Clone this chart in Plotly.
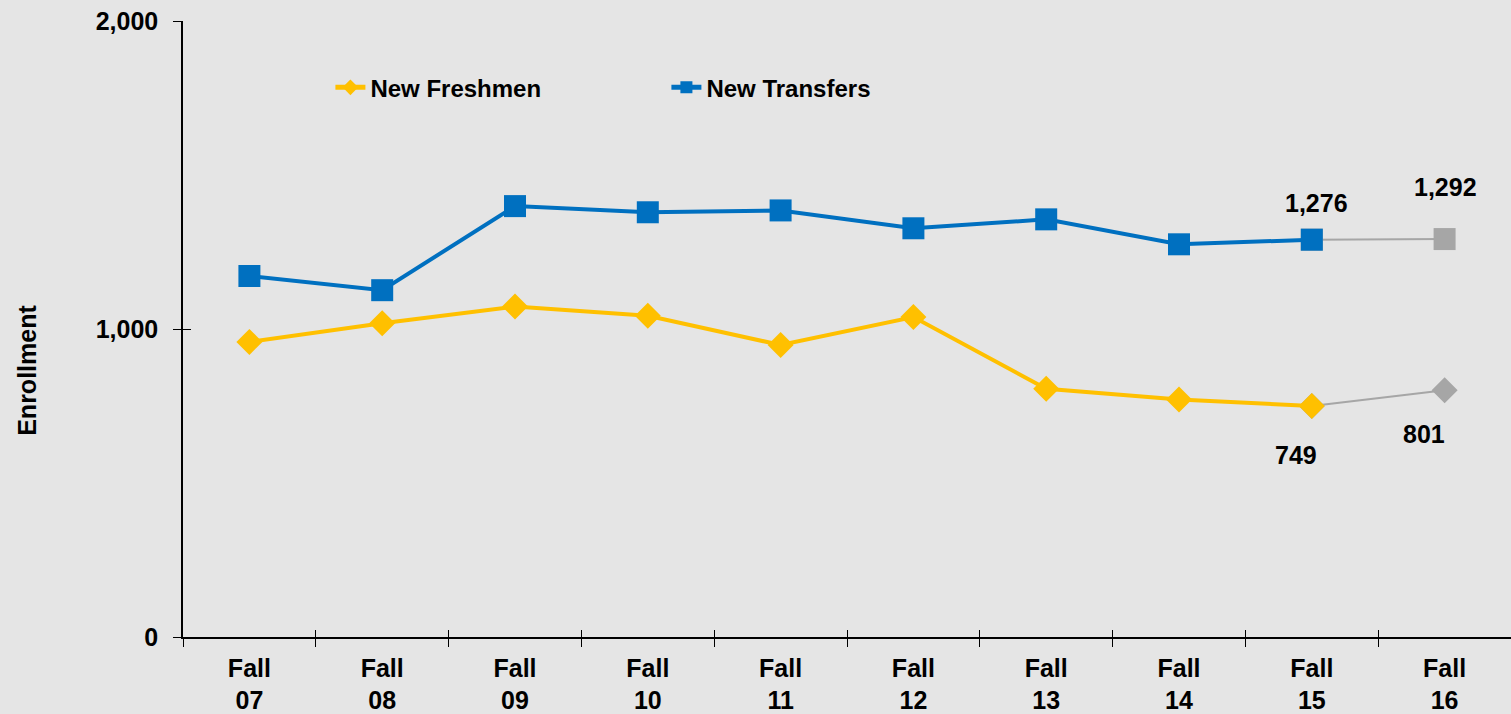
import plotly.graph_objects as go

# ---- data ----
categories = ["Fall<br>07", "Fall<br>08", "Fall<br>09", "Fall<br>10", "Fall<br>11",
              "Fall<br>12", "Fall<br>13", "Fall<br>14", "Fall<br>15", "Fall<br>16"]
freshmen = [958, 1019, 1073, 1043, 948, 1039, 806, 771, 750, 801]
transfers = [1172, 1126, 1399, 1379, 1385, 1327, 1356, 1275, 1290, 1292]
n_actual = 9  # Fall 07 - Fall 15 actual, Fall 16 projected (gray)

label_cats = ["Fall<br>15", "Fall<br>16", "Fall<br>15", "Fall<br>16"]
label_vals = [transfers[8], transfers[9], freshmen[8], freshmen[9]]
label_text = ["1,276", "1,292", "749", "801"]
label_shift = [(5, 37), (1, 52), (-16, -49), (-21, -44)]

y_ticks = [0, 1000, 2000]

FONT = "Liberation Sans, Arial, sans-serif"
GOLD = "#FFC000"
BLUE = "#0070C0"
GRAY = "#A6A6A6"
BG = "#E5E5E5"

fig = go.Figure()

# projected gray segments
fig.add_trace(go.Scatter(x=categories[n_actual - 1:], y=freshmen[n_actual - 1:], mode="lines+markers",
                         line=dict(color=GRAY, width=2), marker=dict(symbol="diamond", size=20, color=GRAY),
                         showlegend=False, hoverinfo="skip"))
fig.add_trace(go.Scatter(x=categories[n_actual - 1:], y=transfers[n_actual - 1:], mode="lines+markers",
                         line=dict(color=GRAY, width=2), marker=dict(symbol="square", size=22, color=GRAY),
                         showlegend=False, hoverinfo="skip"))

fig.add_trace(go.Scatter(x=categories[:n_actual], y=freshmen[:n_actual], mode="lines+markers",
                         name="New Freshmen", line=dict(color=GOLD, width=4),
                         marker=dict(symbol="diamond", size=20, color=GOLD)))
fig.add_trace(go.Scatter(x=categories[:n_actual], y=transfers[:n_actual], mode="lines+markers",
                         name="New Transfers", line=dict(color=BLUE, width=4),
                         marker=dict(symbol="square", size=22, color=BLUE)))

for c, v, t, (dx, dy) in zip(label_cats, label_vals, label_text, label_shift):
    fig.add_annotation(x=c, y=v, text=t, showarrow=False, xshift=dx, yshift=dy,
                       font=dict(family=FONT, size=25, color="black"))

fig.add_annotation(xref="paper", yref="paper", x=-0.1175, y=0.4337, text="<b>Enrollment</b>",
                   textangle=-90, showarrow=False, xanchor="center", yanchor="middle",
                   font=dict(family=FONT, size=25, color="black"))

fig.update_layout(
    width=1511, height=714,
    margin=dict(l=183, r=0, t=21, b=75),
    paper_bgcolor=BG, plot_bgcolor=BG,
    font=dict(family=FONT, size=25, color="black", weight="bold"),
    showlegend=True,
    legend=dict(orientation="h", x=0.111, xanchor="left", y=0.8916, yanchor="middle",
                bgcolor="rgba(0,0,0,0)", itemsizing="constant", entrywidth=291, entrywidthmode="pixels",
                font=dict(family=FONT, size=24, color="black", weight="bold")),
    xaxis=dict(type="category", categoryorder="array", categoryarray=categories,
               range=[-0.5, 9.5], showline=True, linecolor="black", linewidth=1.5,
               ticks="outside", ticklen=8, tickcolor="black", tickson="boundaries",
               ticklabelstandoff=8,
               showgrid=False, zeroline=False, tickfont=dict(family=FONT, size=25, weight="bold")),
    yaxis=dict(range=[0, 2000], tickvals=y_ticks, tickformat=",", showline=True, linecolor="black",
               linewidth=1.5, ticks="outside", ticklen=8, tickcolor="black", showgrid=False,
               zeroline=False, ticklabelstandoff=10, tickfont=dict(family=FONT, size=25, weight="bold")),
    xaxis2=dict(overlaying="x", range=[-0.5, 9.5], tickvals=[i - 0.5 for i in range(len(categories) + 1)],
                ticks="inside", ticklen=7, tickcolor="black", showticklabels=False, showgrid=False,
                zeroline=False, side="bottom", anchor="y"),
    yaxis2=dict(overlaying="y", range=[0, 2000], tickvals=y_ticks, ticks="inside", ticklen=8,
                tickcolor="black", showticklabels=False, showgrid=False, zeroline=False,
                side="left", anchor="x"),
)
# invisible traces so the overlay axes are drawn
fig.add_trace(go.Scatter(x=[0], y=[0], xaxis="x2", yaxis="y2", mode="markers",
                         marker=dict(opacity=0), showlegend=False, hoverinfo="skip"))

fig.write_html("out.html", config={"displayModeBar": False},
               post_script="document.body.style.margin='0';document.body.style.background='%s';" % BG)
